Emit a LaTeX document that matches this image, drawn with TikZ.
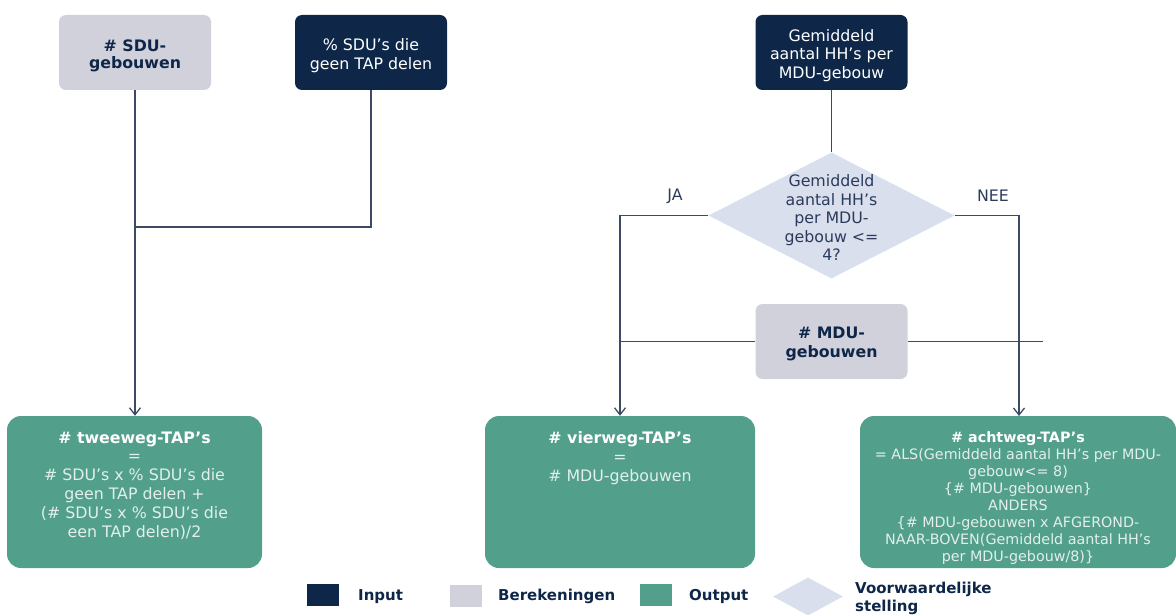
\documentclass[tikz,border=0pt]{standalone}
\usepackage{fontspec}
\setmainfont{DejaVu Sans}
\usetikzlibrary{shapes.geometric,arrows.meta}
\definecolor{navy}{HTML}{0E2749}
\definecolor{calcgray}{HTML}{D1D1DB}
\definecolor{outgreen}{HTML}{52A08B}
\definecolor{diafill}{HTML}{DADFEE}
\definecolor{linecol}{HTML}{3C4A67}
\definecolor{diatext}{HTML}{2B3B5A}
\definecolor{outtext}{HTML}{E2EFEB}
\begin{document}
\begin{tikzpicture}[x=1pt,y=-1pt,
  basebox/.style={inner sep=0pt, rounded corners=7pt, minimum width=152pt, minimum height=75pt},
  inputbox/.style={basebox, fill=navy},
  calcbox/.style={basebox, fill=calcgray},
  intxt/.style={align=center, inner sep=0pt, text=white, font=\fontsize{15.8}{18.7}\selectfont},
  calctxt/.style={align=center, inner sep=0pt, text=navy, font=\fontsize{15.8}{18.7}\selectfont\bfseries},
  outbox/.style={fill=outgreen, rounded corners=14pt, inner sep=0pt, minimum height=152pt},
  outtxt/.style={align=center, inner sep=0pt, anchor=north, text=outtext},
  conn/.style={draw=linecol, line width=1.3pt},
  arrowconn/.style={conn, -{Straight Barb[length=7pt,width=11pt]}},
  lbl/.style={text=diatext, font=\fontsize{15.8}{18.5}\selectfont, inner sep=0pt},
  legbox/.style={inner sep=0pt, minimum width=32pt, minimum height=22pt},
  legtxt/.style={text=navy, font=\fontsize{15}{18}\selectfont\bfseries, anchor=west, align=left, inner sep=0pt}
]
\useasboundingbox (0,0) rectangle (1176,615);

% top row
\node[calcbox] (sdu) at (135,52.5) {};
\node[calctxt, font=\fontsize{15.8}{16.7}\selectfont\bfseries] (sdut) at (135,56) {\# SDU-\\gebouwen};
\node[inputbox] (pct) at (371,52.5) {};
\node[intxt] (pctt) at (371,55.5) {\% SDU’s die\\geen TAP delen};
\node[inputbox] (gem) at (831.5,52.5) {};
\node[intxt] (gemt) at (831.5,55.5) {Gemiddeld\\aantal HH’s per\\MDU-gebouw};

% decision
\node[diamond, fill=diafill, minimum width=246pt, minimum height=126pt, inner sep=0pt] (dia) at (831.5,215.5) {};
\node[lbl, align=center] (diat) at (831.5,217.5) {Gemiddeld\\aantal HH’s\\per MDU-\\gebouw <=\\4?};
\node[lbl] (ja) at (675,196) {JA};
\node[lbl] (nee) at (993,196) {NEE};

% calculation
\node[calcbox] (mdu) at (831.5,341.5) {};
\node[calctxt] (mdut) at (831.5,344) {\# MDU-\\gebouwen};

% outputs
\node[outbox, minimum width=255pt] (two) at (134.5,492) {};
\node[outbox, minimum width=270pt] (four) at (620,492) {};
\node[outbox, minimum width=316pt] (eight) at (1018,492) {};

\node[outtxt, font=\fontsize{15.8}{18.8}\selectfont, yshift=-15.5pt] (twot) at (two.north)
  {\textbf{\color{white}\# tweeweg-TAP’s}\\=\\\# SDU’s x \% SDU’s die\\geen TAP delen +\\(\# SDU’s x \% SDU’s die\\een TAP delen)/2};
\node[outtxt, font=\fontsize{15.8}{18.8}\selectfont, yshift=-15.5pt] (fourt) at (four.north)
  {\textbf{\color{white}\# vierweg-TAP’s}\\=\\\# MDU-gebouwen};
\node[outtxt, font=\fontsize{14.3}{16.9}\selectfont, yshift=-16pt] (eightt) at (eight.north)
  {\textbf{\color{white}\# achtweg-TAP’s}\\= ALS(Gemiddeld aantal HH’s per MDU-\\gebouw<= 8)\\\{\# MDU-gebouwen\}\\ANDERS\\\{\# MDU-gebouwen x AFGEROND-\\NAAR-BOVEN(Gemiddeld aantal HH’s\\per MDU-gebouw/8)\}};

% connectors
\coordinate (j1) at (135,227);
\coordinate (neeend) at (1019,416);
\coordinate (mduend) at (1043,341.5);
\draw[arrowconn] (sdu.south) -- (sdu.south |- two.north);
\draw[conn] (pct.south) |- (j1);
\draw[conn] (gem.south) -- (dia.north);
\draw[arrowconn] (dia.west) -| (four.north);
\draw[arrowconn] (dia.east) -| (neeend);
\draw[conn] (mdu.west) -- (mdu.west -| four.north);
\draw[conn] (mdu.east) -- (mduend);

% legend
\node[legbox, fill=navy] (lgin) at (322.5,594.5) {};
\node[legtxt] (lgint) at (358,596.5) {Input};
\node[legbox, fill=calcgray] (lgcalc) at (465.5,595.5) {};
\node[legtxt] (lgcalct) at (498,596.5) {Berekeningen};
\node[legbox, fill=outgreen] (lgout) at (656,595) {};
\node[legtxt] (lgoutt) at (689,596.5) {Output};
\node[diamond, fill=diafill, minimum width=70pt, minimum height=38pt, inner sep=0pt] (lgdia) at (808,596.5) {};
\node[legtxt] (lgdiat) at (855,598) {Voorwaardelijke\\stelling};
\end{tikzpicture}
\end{document}
